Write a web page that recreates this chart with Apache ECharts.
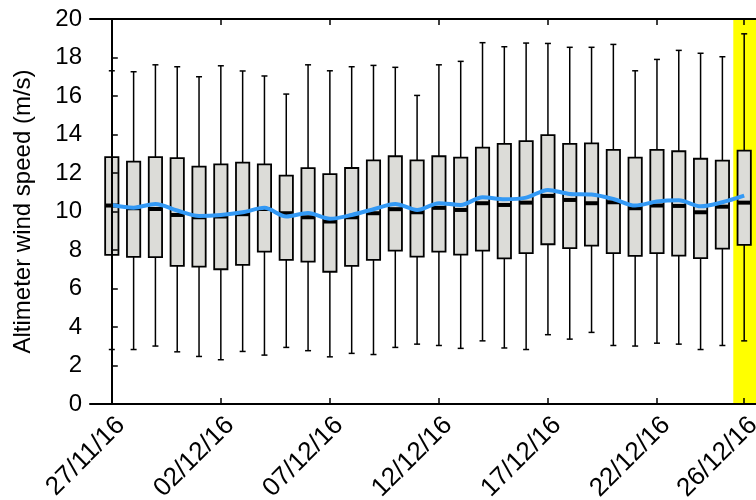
<!DOCTYPE html>
<html>
<head>
<meta charset="utf-8">
<script src="https://cdn.jsdelivr.net/npm/echarts@6/dist/echarts.min.js"></script>
<style>
  html, body { margin: 0; background: #fff; }
  #chart { width: 756px; height: 500px; }
</style>
</head>
<body>
<div id="chart"></div>
<script>
// day index 0 = 27/11/16 ... 29 = 26/12/16
const dayIndex = [0, 1, 2, 3, 4, 5, 6, 7, 8, 9, 10, 11, 12, 13, 14, 15, 16, 17, 18, 19, 20, 21, 22, 23, 24, 25, 26, 27, 28, 29];
const whiskerLow = [2.83, 2.83, 3.01, 2.71, 2.47, 2.30, 2.73, 2.54, 2.94, 2.77, 2.45, 2.63, 2.57, 2.94, 3.11, 3.04, 2.89, 3.28, 2.91, 2.83, 3.60, 3.37, 3.72, 3.04, 3.01, 3.16, 3.11, 2.83, 3.04, 3.28];
const q1 = [7.75, 7.64, 7.63, 7.18, 7.14, 7.00, 7.23, 7.92, 7.49, 7.40, 6.87, 7.18, 7.49, 7.97, 7.66, 7.92, 7.76, 7.97, 7.56, 7.84, 8.30, 8.10, 8.23, 7.84, 7.70, 7.84, 7.71, 7.58, 8.07, 8.27];
const median = [10.31, 10.17, 10.13, 9.82, 9.70, 9.74, 9.86, 10.13, 9.91, 9.70, 9.48, 9.70, 9.91, 10.12, 9.96, 10.19, 10.08, 10.43, 10.34, 10.46, 10.81, 10.60, 10.43, 10.48, 10.17, 10.31, 10.29, 9.96, 10.25, 10.46];
const q3 = [12.82, 12.59, 12.82, 12.77, 12.33, 12.45, 12.54, 12.45, 11.86, 12.25, 11.94, 12.26, 12.66, 12.87, 12.66, 12.87, 12.80, 13.32, 13.51, 13.66, 13.97, 13.51, 13.54, 13.20, 12.80, 13.20, 13.13, 12.74, 12.64, 13.16];
const whiskerHigh = [17.31, 17.26, 17.62, 17.52, 17.00, 17.57, 17.30, 17.04, 16.10, 17.62, 17.31, 17.52, 17.59, 17.49, 16.03, 17.62, 17.80, 18.77, 18.56, 18.75, 18.73, 18.53, 18.53, 18.68, 17.31, 17.90, 18.37, 18.22, 18.04, 19.23];
const mean = [10.34, 10.20, 10.39, 10.05, 9.77, 9.82, 9.96, 10.19, 9.74, 9.92, 9.62, 9.82, 10.12, 10.39, 10.08, 10.43, 10.34, 10.74, 10.64, 10.72, 11.12, 10.91, 10.88, 10.65, 10.31, 10.52, 10.58, 10.27, 10.48, 10.82];

const tickPositions = [0, 5, 10, 15, 20, 25, 29];
const tickLabels = ['27/11/16', '02/12/16', '07/12/16', '12/12/16', '17/12/16', '22/12/16', '26/12/16'];
const highlightFrom = 28.5;

const font = 'Liberation Sans, Arial, Helvetica, sans-serif';

const chart = echarts.init(document.getElementById('chart'));

const boxData = dayIndex.map((d, i) => [d, whiskerLow[i], q1[i], median[i], q3[i], whiskerHigh[i]]);

function renderBox(params, api) {
  const x = api.value(0);
  const band = api.size([1, 0])[0];
  const half = band * 0.305;
  const cap = 3;
  const pLow = api.coord([x, api.value(1)]);
  const pQ1 = api.coord([x, api.value(2)]);
  const pMed = api.coord([x, api.value(3)]);
  const pQ3 = api.coord([x, api.value(4)]);
  const pHigh = api.coord([x, api.value(5)]);
  const cx = pLow[0];
  const thin = { stroke: '#000', lineWidth: 1.5 };
  return {
    type: 'group',
    children: [
      { type: 'line', shape: { x1: cx, y1: pLow[1], x2: cx, y2: pQ1[1] }, style: thin },
      { type: 'line', shape: { x1: cx, y1: pQ3[1], x2: cx, y2: pHigh[1] }, style: thin },
      { type: 'line', shape: { x1: cx - cap, y1: pLow[1], x2: cx + cap, y2: pLow[1] }, style: thin },
      { type: 'line', shape: { x1: cx - cap, y1: pHigh[1], x2: cx + cap, y2: pHigh[1] }, style: thin },
      {
        type: 'rect',
        shape: { x: cx - half, y: pQ3[1], width: half * 2, height: pQ1[1] - pQ3[1] },
        style: { fill: '#dcdcd8', stroke: '#000', lineWidth: 1.8 }
      },
      { type: 'line', shape: { x1: cx - half, y1: pMed[1], x2: cx + half, y2: pMed[1] }, style: { stroke: '#000', lineWidth: 4 } }
    ]
  };
}

chart.setOption({
  animation: false,
  grid: { left: 90, top: 19, bottom: 96, right: -10, outerBoundsMode: 'none' },
  xAxis: [
    {
      type: 'value',
      min: -1,
      max: 30,
      z: 5,
      axisLine: { lineStyle: { color: '#000', width: 2 } },
      axisTick: { inside: true, length: 6, customValues: tickPositions, lineStyle: { color: '#000', width: 1.5 } },
      axisLabel: {
        customValues: tickPositions,
        formatter: (v) => tickLabels[tickPositions.indexOf(v)],
        rotate: 45,
        verticalAlign: 'top',
        margin: 8,
        color: '#000',
        fontSize: 26,
        fontFamily: font
      },
      splitLine: { show: false }
    },
    {
      type: 'value',
      position: 'top',
      min: -1,
      max: 30,
      z: 5,
      axisLine: { lineStyle: { color: '#000', width: 2 } },
      axisTick: { inside: true, length: 6, customValues: tickPositions, lineStyle: { color: '#000', width: 1.5 } },
      axisLabel: { show: false },
      splitLine: { show: false }
    }
  ],
  yAxis: {
    type: 'value',
    min: 0,
    max: 20,
    interval: 2,
    z: 5,
    name: 'Altimeter wind speed (m/s)',
    nameLocation: 'middle',
    nameGap: 55,
    nameTextStyle: { color: '#000', fontSize: 24, fontFamily: font },
    axisLine: { show: true, lineStyle: { color: '#000', width: 2 } },
    axisTick: { show: true, inside: true, length: 6, lineStyle: { color: '#000', width: 1.5 } },
    axisLabel: { color: '#000', fontSize: 24, fontFamily: font, margin: 8 },
    splitLine: { show: false }
  },
  series: [
    {
      type: 'custom',
      name: 'box',
      renderItem: renderBox,
      data: boxData,
      encode: { x: 0, y: [1, 2, 3, 4, 5] },
      z: 2,
      markArea: {
        silent: true,
        itemStyle: { color: '#ffff00', opacity: 1 },
        data: [[{ xAxis: highlightFrom }, { xAxis: 30 }]]
      }
    },
    {
      type: 'line',
      name: 'mean',
      data: dayIndex.map((d, i) => [d, mean[i]]),
      smooth: 0.3,
      symbol: 'none',
      z: 3,
      lineStyle: { color: '#3399f5', width: 4 }
    }
  ]
});
</script>
</body>
</html>
